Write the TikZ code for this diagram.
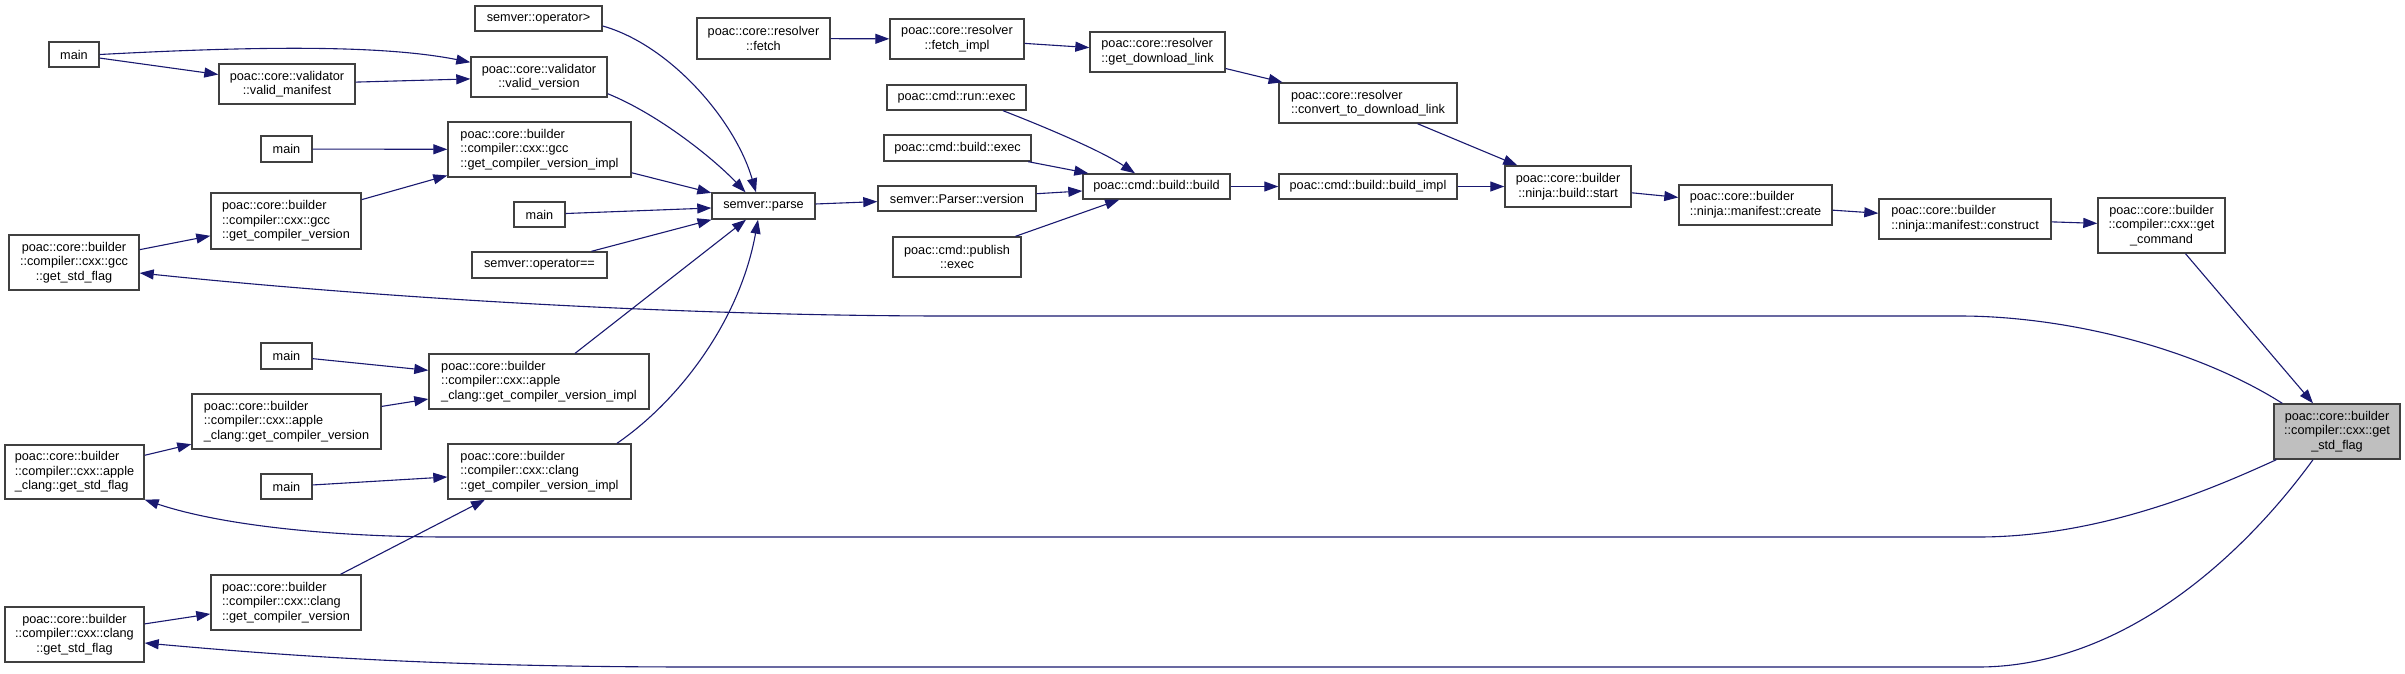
\documentclass[tikz,border=0pt]{standalone}
\usepackage{fontspec}
\setmainfont{Liberation Sans}
\usetikzlibrary{arrows.meta,calc}
\definecolor{edgec}{HTML}{191970}
\definecolor{boxc}{HTML}{404040}
\definecolor{hl}{HTML}{BFBFBF}
\begin{document}
\begin{tikzpicture}[x=1pt,y=-1pt,
  box/.style={draw=boxc, line width=1.4pt, fill=white, inner sep=0pt,
    font=\fontsize{12.7}{14.6}\selectfont, align=center},
  lbox/.style={box, align=left},
  edge/.style={draw=edgec, line width=1.1pt, -{Triangle[length=14pt,width=10pt]}}
]
\fill[white] (0,0) rectangle (2405,673);
\useasboundingbox (0,0) rectangle (2405,673);

% ---- nodes ----
\node[box, minimum width=50pt, minimum height=25pt] (mainA) at (74,54.5) {main};
\node[box, minimum width=136pt, minimum height=40pt] (vmanifest) at (287,84) {poac::core::validator\\::valid\_manifest};
\node[box, minimum width=136pt, minimum height=40pt] (vversion) at (539,77) {poac::core::validator\\::valid\_version};
\node[box, minimum width=127pt, minimum height=25pt] (opgt) at (538.5,18.5) {semver::operator>};
\node[box, minimum width=133pt, minimum height=41pt] (fetch) at (763.5,38.5) {poac::core::resolver\\::fetch};
\node[box, minimum width=134pt, minimum height=40pt] (fetchimpl) at (957,39) {poac::core::resolver\\::fetch\_impl};
\node[lbox, minimum width=135pt, minimum height=40pt] (getdl) at (1157.5,52) {poac::core::resolver\\::get\_download\_link};
\node[lbox, minimum width=178pt, minimum height=40pt] (convert) at (1368,103) {poac::core::resolver\\::convert\_to\_download\_link};
\node[box, minimum width=139pt, minimum height=25pt] (runexec) at (956.5,97.5) {poac::cmd::run::exec};
\node[box, minimum width=147pt, minimum height=26pt] (buildexec) at (957.5,148) {poac::cmd::build::exec};
\node[box, minimum width=158pt, minimum height=25pt] (parserver) at (957,198.5) {semver::Parser::version};
\node[box, minimum width=128pt, minimum height=40pt] (publish) at (957,257) {poac::cmd::publish\\::exec};
\node[box, minimum width=147pt, minimum height=25pt] (build) at (1156.5,186.5) {poac::cmd::build::build};
\node[box, minimum width=178pt, minimum height=25pt] (buildimpl) at (1368,186.5) {poac::cmd::build::build\_impl};
\node[box, minimum width=126pt, minimum height=41pt] (start) at (1568,186.5) {poac::core::builder\\::ninja::build::start};
\node[lbox, minimum width=153pt, minimum height=40pt] (create) at (1755.5,205) {poac::core::builder\\::ninja::manifest::create};
\node[lbox, minimum width=172pt, minimum height=40pt] (construct) at (1965,219) {poac::core::builder\\::ninja::manifest::construct};
\node[box, minimum width=127pt, minimum height=55pt] (getcmd) at (2161.5,225.5) {poac::core::builder\\::compiler::cxx::get\\\_command};
\node[box, fill=hl, minimum width=126pt, minimum height=55pt] (stdflag) at (2337,431.5) {poac::core::builder\\::compiler::cxx::get\\\_std\_flag};

\node[box, minimum width=51pt, minimum height=26pt] (mainB) at (286.5,149) {main};
\node[lbox, minimum width=183pt, minimum height=55pt] (gccimpl) at (539.5,149.5) {poac::core::builder\\::compiler::cxx::gcc\\::get\_compiler\_version\_impl};
\node[box, minimum width=103pt, minimum height=26pt] (parse) at (763.5,206) {semver::parse};
\node[box, minimum width=51pt, minimum height=25pt] (mainC) at (539.5,214.5) {main};
\node[box, minimum width=135pt, minimum height=26pt] (opeq) at (539.5,265) {semver::operator==};
\node[lbox, minimum width=150pt, minimum height=56pt] (gccgcv) at (286,221) {poac::core::builder\\::compiler::cxx::gcc\\::get\_compiler\_version};
\node[box, minimum width=130pt, minimum height=55pt] (gccflag) at (74,262.5) {poac::core::builder\\::compiler::cxx::gcc\\::get\_std\_flag};

\node[box, minimum width=51pt, minimum height=26pt] (mainD) at (286.5,356) {main};
\node[lbox, minimum width=220pt, minimum height=55pt] (appleimpl) at (539,381.5) {poac::core::builder\\::compiler::cxx::apple\\\_clang::get\_compiler\_version\_impl};
\node[lbox, minimum width=189pt, minimum height=55pt] (applegcv) at (286.5,421.5) {poac::core::builder\\::compiler::cxx::apple\\\_clang::get\_compiler\_version};
\node[lbox, minimum width=139pt, minimum height=54pt] (appleflag) at (74.5,472) {poac::core::builder\\::compiler::cxx::apple\\\_clang::get\_std\_flag};
\node[box, minimum width=51pt, minimum height=25pt] (mainE) at (286.5,486.5) {main};
\node[lbox, minimum width=183pt, minimum height=55pt] (clangimpl) at (539.5,471.5) {poac::core::builder\\::compiler::cxx::clang\\::get\_compiler\_version\_impl};
\node[lbox, minimum width=150pt, minimum height=55pt] (clanggcv) at (286,602.5) {poac::core::builder\\::compiler::cxx::clang\\::get\_compiler\_version};
\node[box, minimum width=139pt, minimum height=55pt] (clangflag) at (74.5,634.5) {poac::core::builder\\::compiler::cxx::clang\\::get\_std\_flag};

% ---- edges ----
\draw[edge] (mainA.east) .. controls +(150,-8) and +(-90,-18) .. ($(vversion.north west)+(0,6)$);
\draw[edge] (mainA) -- (vmanifest);
\draw[edge] (vmanifest) -- (vversion);
\draw[edge] ($(vversion.south east)+(0,-4)$) .. controls (660,115) and (715,160) .. ($(parse.north)+(-18,0)$);
\draw[edge] ($(opgt.east)+(0,7.5)$) .. controls (670,45) and (735,120) .. ($(parse.north)+(-7.5,0)$);
\draw[edge] (gccimpl) -- (parse);
\draw[edge] (mainC) -- (parse);
\draw[edge] (opeq) -- (parse);
\draw[edge] (appleimpl) -- (parse);
\draw[edge] ($(clangimpl.north)+(77.5,0)$) .. controls (680,400) and (740,320) .. ($(parse.south)+(-5.5,0)$);
\draw[edge] (mainB) -- (gccimpl);
\draw[edge] (gccgcv) -- (gccimpl);
\draw[edge] (gccflag) -- (gccgcv);
\draw[edge] (parse) -- (parserver);
\draw[edge] (parserver) -- (build);
\draw[edge] ($(runexec.south)+(46.5,0)$) .. controls (1040,125) and (1100,150) .. ($(build.north)+(-21.5,0)$);
\draw[edge] (buildexec) -- (build);
\draw[edge] (publish) -- (build);
\draw[edge] (fetch) -- (fetchimpl);
\draw[edge] (fetchimpl) -- (getdl);
\draw[edge] (getdl) -- (convert);
\draw[edge] (build) -- (buildimpl);
\draw[edge] (convert) -- (start);
\draw[edge] (buildimpl) -- (start);
\draw[edge] (start) -- (create);
\draw[edge] (create) -- (construct);
\draw[edge] (construct) -- (getcmd);
\draw[edge] (getcmd) -- (stdflag);
\draw[edge] (mainD) -- (appleimpl);
\draw[edge] (applegcv) -- (appleimpl);
\draw[edge] (appleflag) -- (applegcv);
\draw[edge] (mainE) -- (clangimpl);
\draw[edge] (clanggcv) -- (clangimpl);
\draw[edge] (clangflag) -- (clanggcv);

\draw[edge] ($(stdflag.north west)+(9,0)$) .. controls (2190,345) and (2060,316) .. (1960,316)
  -- (950,316) .. controls (700,316) and (400,300) .. ($(gccflag.east)+(0,10.5)$);
\draw[edge] ($(stdflag.south west)+(3,0)$) .. controls (2210,490) and (2100,537) .. (1978,537)
  -- (450,537) .. controls (330,537) and (220,525) .. (appleflag.south east);
\draw[edge] ($(stdflag.south)+(-24,0)$) .. controls (2240,560) and (2120,667) .. (1978,667)
  -- (700,667) .. controls (450,667) and (300,657) .. ($(clangflag.east)+(0,8.5)$);
\end{tikzpicture}
\end{document}
